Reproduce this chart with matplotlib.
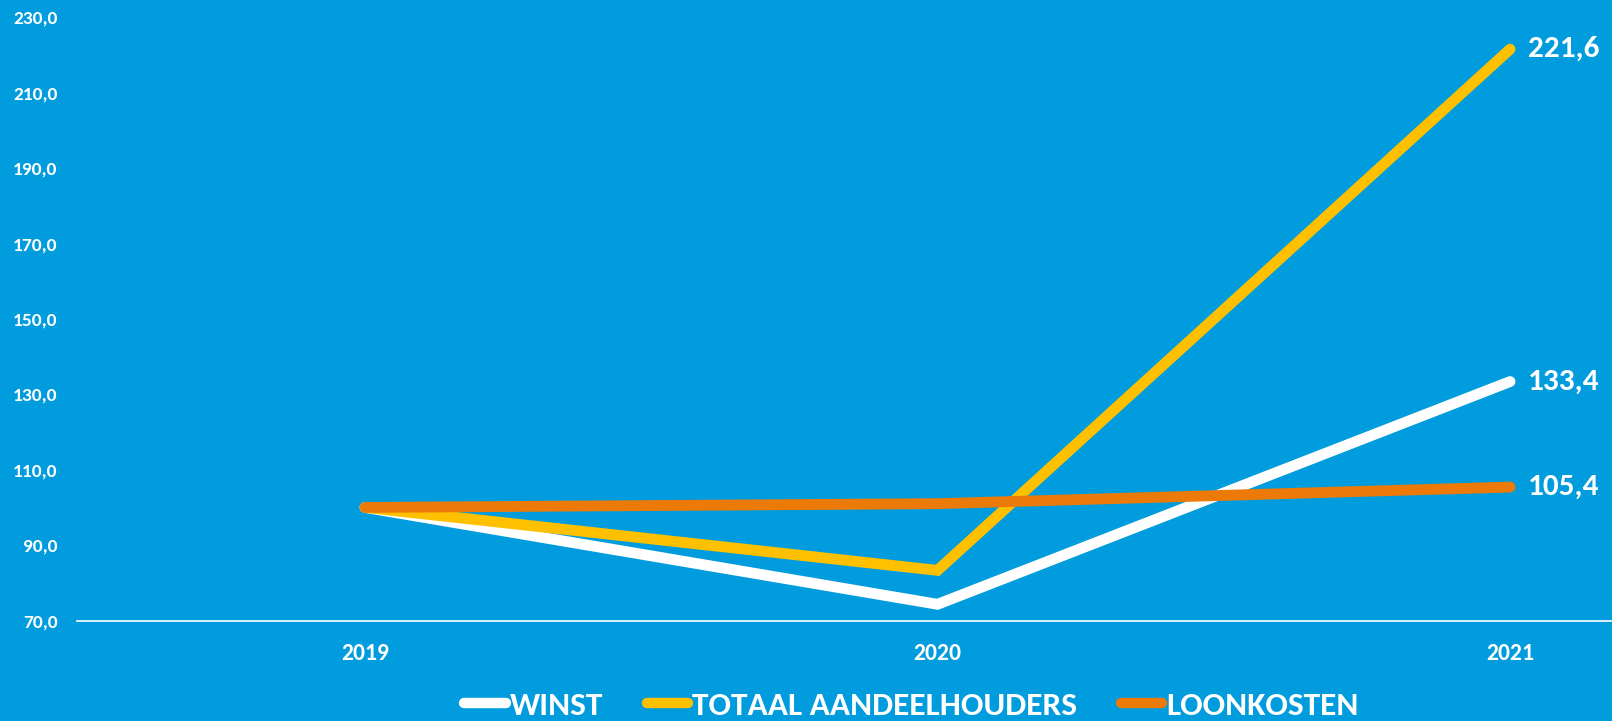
import matplotlib.pyplot as plt
from matplotlib.lines import Line2D

# data (index, 2019 = 100)
years = ['2019', '2020', '2021']
winst = [100.0, 74.3, 133.4]
aandeelhouders = [100.0, 83.3, 221.6]
loonkosten = [100.0, 101.0, 105.4]
series_names = ['WINST', 'TOTAAL AANDEELHOUDERS', 'LOONKOSTEN']
yticks = [70, 90, 110, 130, 150, 170, 190, 210, 230]

bg = '#009CDE'
colors = ['#FFFFFF', '#FFC000', '#EC7A08']

plt.rcParams['font.family'] = ['Carlito', 'DejaVu Sans']
plt.rcParams['font.weight'] = 'bold'

fig = plt.figure(figsize=(16.12, 7.21), dpi=100, facecolor=bg)
ax = fig.add_axes([77 / 1612, (721 - 620.5) / 721, 1 - 77 / 1612, (620.5 - 17.5) / 721])
ax.set_facecolor(bg)

x = list(range(len(years)))
for vals, c in zip([winst, aandeelhouders, loonkosten], colors):
    ax.plot(x, vals, color=c, lw=7.8, solid_capstyle='round', solid_joinstyle='miter')
    ax.annotate(f'{vals[-1]:.1f}'.replace('.', ','), (x[-1], vals[-1]),
                xytext=(13, 0), textcoords='offset points', va='center', ha='left',
                color='white', fontsize=22.5, fontweight='bold')

ax.set_xlim(-0.503, 2.178)
ax.set_ylim(70, 230)
ax.set_xticks(x)
ax.set_xticklabels(years)
ax.set_yticks(yticks)
ax.set_yticklabels([f'{v},0' for v in yticks])
ax.tick_params(axis='both', length=0, colors='white')
ax.tick_params(axis='y', pad=14, labelsize=14)
ax.tick_params(axis='x', pad=16, labelsize=17)
for s in ['top', 'right', 'left']:
    ax.spines[s].set_visible(False)
ax.spines['bottom'].set_color('white')
ax.spines['bottom'].set_linewidth(1.2)

handles = [Line2D([], [], color=c, lw=7.5, solid_capstyle='round') for c in colors]
leg = fig.legend(handles, series_names, loc='center', bbox_to_anchor=(0.5655, 0.021),
                 ncol=3, frameon=False, handlelength=1.25, handletextpad=0.12,
                 columnspacing=1.3, borderpad=0,
                 prop={'family': ['Carlito', 'DejaVu Sans'], 'weight': 'bold', 'size': 24})
for t in leg.get_texts():
    t.set_color('white')

fig.savefig('out.png', dpi=100, facecolor=bg)
